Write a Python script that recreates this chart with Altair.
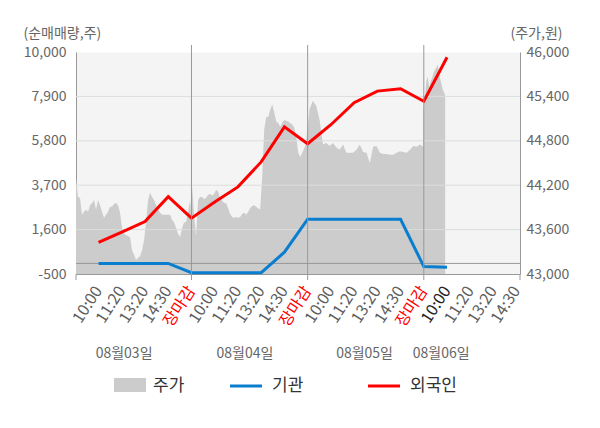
import altair as alt
import pandas as pd

FONT = "Noto Sans CJK KR"

# ---------------- data ----------------
slot_labels = ["10:00", "11:20", "13:20", "14:30", "장마감"] * 3 + ["10:00", "11:20", "13:20", "14:30"]
slot_pos = list(range(1, 20))
slot_colors = (["#5f5f5f"] * 4 + ["#ff0000"]) * 3 + ["#222222", "#5f5f5f", "#5f5f5f", "#5f5f5f"]

day_labels = ["08월03일", "08월04일", "08월05일", "08월06일"]
day_label_pos = [2.1, 7.3, 12.45, 15.75]
day_boundaries = [5, 10, 15]

flow_pos = list(range(1, 17))
foreign = [1000, 1480, 1980, 3160, 2140, 2900, 3620, 4800, 6460, 5660, 6560, 7600, 8150, 8260, 7670, 9750]
institution = [0, 0, 0, 0, -440, -440, -440, -440, 530, 2090, 2090, 2090, 2090, 2090, -150, -180]

price_day1 = [44300, 44040, 44030, 43800, 43840, 43870, 43840, 43930, 43960, 44000,
              43870, 44000, 43930, 43840, 43760, 43800, 43840, 43910, 43910, 43950,
              43960, 43930, 43830, 43620, 43540, 43530, 43510, 43500, 43320, 43260,
              43190, 43220, 43240, 43320, 43460, 43700, 44000, 44100, 44040, 44000,
              43930, 43870, 43830, 43800, 43800, 43800, 43800, 43800, 43730, 43700,
              43620, 43540, 43500, 43620, 43700, 43700, 43840, 44000]
price_day2 = [43830, 44180, 43800, 43510, 44000, 44040, 44040, 44010, 44030, 44070,
              44080, 44060, 44080, 44140, 44110, 44030, 43990, 43960, 43960, 43890,
              43810, 43770, 43760, 43770, 43760, 43770, 43810, 43830, 43800, 43840,
              43890, 43920, 43930, 43910, 43890, 43870, 44310, 44950, 45120, 45120,
              45220, 45290, 45190, 45060, 45040, 44990, 45040, 45080, 45070, 45060,
              45040, 45020, 44980, 44850, 44640, 44580, 44640, 44700, 44770]
price_day3 = [44810, 45230, 45340, 45270, 45080, 44750, 44770, 44730, 44770, 44710,
              44680, 44750, 44640, 44640, 44640, 44680, 44750, 44650, 44640, 44500,
              44720, 44730, 44640, 44620, 44620, 44610, 44610, 44640, 44660, 44650,
              44640, 44680, 44730, 44720, 44750, 44720]
price_day4 = [45220, 45350, 45600, 45670, 45520, 45600, 45650, 45720, 45760, 45790,
              45830, 45690, 45600, 45520, 45460, 45420]
# session span of each day on the slot axis
day_start = [0.03, 4.94, 9.94, 14.98]
day_end = [4.94, 9.94, 14.98, 15.92]

left_ticks = [-500, 1600, 3700, 5800, 7900, 10000]
grid_ticks = [1600, 3700, 5800, 7900]
right_ticks = [43000, 43600, 44200, 44800, 45400, 46000]
price_min, price_max = 43000, 46000
x_domain = [0.03, 19.14]

# ---------------- tables ----------------
rows = []
for prices, s, e in zip([price_day1, price_day2, price_day3, price_day4], day_start, day_end):
    n = len(prices)
    for i, p in enumerate(prices):
        rows.append({"t": s + (e - s) * i / (n - 1), "price": p, "base": price_min})
price_df = pd.DataFrame(rows)
flow_df = pd.DataFrame({"t": flow_pos, "foreign": foreign, "inst": institution})
grid_df = pd.DataFrame({"g": grid_ticks})
zero_df = pd.DataFrame({"z": [0]})
bound_df = pd.DataFrame({"b": day_boundaries})
slot_df = pd.DataFrame({"pos": slot_pos, "label": slot_labels, "color": slot_colors})
day_df = pd.DataFrame({"pos": day_label_pos, "label": day_labels})
one = pd.DataFrame({"k": [0]})

W, H = 444, 222
XS = alt.Scale(domain=x_domain, nice=False, zero=False)
XAX = alt.Axis(labels=False, ticks=False, grid=False, domain=True, domainColor="#999999", title=None)


def X(field):
    return alt.X(field, type="quantitative", scale=XS, axis=XAX)


YL_SCALE = alt.Scale(domain=[-500, 10000], nice=False, zero=False)
YL_AXIS = alt.Axis(orient="left", values=left_ticks, format=",d",
                   labelExpr="replace(datum.label, '\u2212', '-')", labelColor="#666666",
                   labelFontSize=14, labelFont=FONT, labelPadding=10, ticks=False, grid=False,
                   domainColor="#999999", title="(순매매량,주)", titleAngle=0, titleAlign="left",
                   titleBaseline="middle", titleX=-53, titleY=-19, titleColor="#666666",
                   titleFontSize=14, titleFontWeight="normal", titleFont=FONT)


def YL(field):
    return alt.Y(field, type="quantitative", scale=YL_SCALE, axis=YL_AXIS)


area = alt.Chart(price_df).mark_area(color="#cccccc", opacity=1).encode(
    x=X("t"),
    y=alt.Y("price:Q", scale=alt.Scale(domain=[price_min, price_max], nice=False, zero=False),
            axis=alt.Axis(orient="right", values=right_ticks, format=",d", labelColor="#666666",
                          labelFontSize=14, labelFont=FONT, labelPadding=6, ticks=False, grid=False,
                          domainColor="#999999", title="(주가,원)", titleAngle=0, titleAlign="right",
                          titleBaseline="middle", titleX=42, titleY=-19, titleColor="#666666",
                          titleFontSize=14, titleFontWeight="normal", titleFont=FONT)),
    y2="base:Q",
)

grid = alt.Chart(grid_df).mark_rule(color="#dddddd", strokeWidth=1).encode(y=YL("g"))
zero = alt.Chart(zero_df).mark_rule(color="#999999", strokeWidth=1).encode(y=YL("z"))
inst_line = alt.Chart(flow_df).mark_line(color="#0a7ece", strokeWidth=3).encode(x=X("t"), y=YL("inst"))
for_line = alt.Chart(flow_df).mark_line(color="#ff0000", strokeWidth=3).encode(x=X("t"), y=YL("foreign"))
inner = alt.layer(grid, zero, inst_line, for_line)

bounds = alt.Chart(bound_df).mark_rule(color="#999999", strokeWidth=1).encode(
    x=X("b"), y=alt.value(-7), y2=alt.value(228))
end_l = alt.Chart(one).mark_rule(color="#999999").encode(x=alt.value(0), y=alt.value(H), y2=alt.value(H + 6))
end_r = alt.Chart(one).mark_rule(color="#999999").encode(x=alt.value(W), y=alt.value(H), y2=alt.value(H + 6))

xlabels = alt.Chart(slot_df).mark_text(angle=303, align="right", baseline="middle",
                                       fontSize=16, font=FONT).encode(
    x=X("pos"), y=alt.value(H + 14), text="label:N", color=alt.Color("color:N", scale=None))
dlabels = alt.Chart(day_df).mark_text(align="center", baseline="middle", fontSize=14,
                                      font=FONT, color="#666666").encode(
    x=X("pos"), y=alt.value(H + 80), text="label:N")

leg_rect = alt.Chart(one).mark_rect(color="#cccccc").encode(
    x=alt.value(38), x2=alt.value(70), y=alt.value(326), y2=alt.value(340))
leg_blue = alt.Chart(one).mark_rule(color="#0a7ece", strokeWidth=3).encode(
    x=alt.value(154), x2=alt.value(186), y=alt.value(334))
leg_red = alt.Chart(one).mark_rule(color="#ff0000", strokeWidth=3).encode(
    x=alt.value(292), x2=alt.value(324), y=alt.value(334))
leg_t1 = alt.Chart(one).mark_text(text="주가", align="left", baseline="middle", fontSize=17,
                                  font=FONT, color="#333333").encode(x=alt.value(77), y=alt.value(334))
leg_t2 = alt.Chart(one).mark_text(text="기관", align="left", baseline="middle", fontSize=17,
                                  font=FONT, color="#333333").encode(x=alt.value(196), y=alt.value(334))
leg_t3 = alt.Chart(one).mark_text(text="외국인", align="left", baseline="middle", fontSize=17,
                                  font=FONT, color="#333333").encode(x=alt.value(334), y=alt.value(334))

chart = alt.layer(
    area, inner, bounds, end_l, end_r, xlabels, dlabels,
    leg_rect, leg_blue, leg_red, leg_t1, leg_t2, leg_t3,
).resolve_scale(y="independent").properties(
    width=W, height=H,
    autosize=alt.AutoSizeParams(type="none"),
    padding={"left": 68, "top": 44, "right": 72, "bottom": 140},
    background="#ffffff",
).configure_view(fill="#f4f4f4", stroke="transparent")

chart.save("out.html", embed_options={"renderer": "svg", "actions": False})
